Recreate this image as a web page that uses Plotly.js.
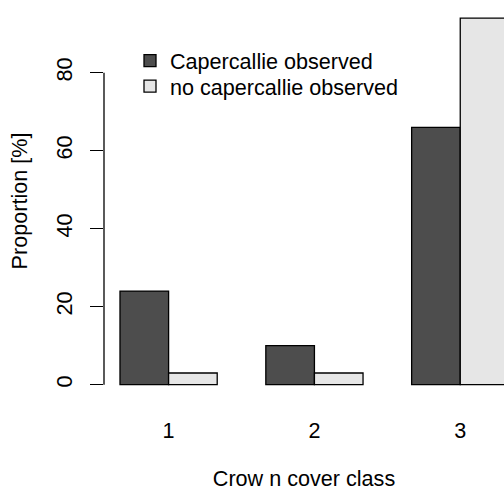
<!DOCTYPE html>
<html>
<head>
<meta charset="utf-8">
<script src="https://cdn.plot.ly/plotly-3.0.1.min.js"></script>
<style>html,body{margin:0;padding:0;background:#fff;}#chart{width:504px;height:491px;}</style>
</head>
<body>
<div id="chart"></div>
<script>
const categories = ["1", "2", "3"];
const seriesNames = ["Capercallie observed", "no capercallie observed"];
const observed = [24, 10, 66];
const notObserved = [3, 3, 94];
const yTicks = [0, 20, 40, 60, 80];
const xTitle = "Crow n cover class";
const yTitle = "Proportion [%]";

const FONT = "Liberation Sans, Arial, sans-serif";
const FS = 21.6;
const traces = [
  {type: "bar", x: categories, y: observed, name: seriesNames[0], legend: "legend",
   marker: {color: "#4D4D4D", line: {color: "#000", width: 1.3}}, hoverinfo: "none"},
  {type: "bar", x: categories, y: notObserved, name: seriesNames[1], legend: "legend2",
   marker: {color: "#E6E6E6", line: {color: "#000", width: 1.3}}, hoverinfo: "none"}
];
const legendBase = {xanchor: "left", yanchor: "top", bgcolor: "rgba(0,0,0,0)", font: {size: FS}};
const layout = {
  width: 504, height: 491,
  margin: {l: 104, r: 0, t: 3, b: 92, pad: 0},
  paper_bgcolor: "#fff", plot_bgcolor: "#fff",
  font: {family: FONT, size: FS, color: "#000"},
  barmode: "group", bargap: 1/3, bargroupgap: 0,
  xaxis: {type: "category", range: [-0.443, 2.30], showline: false, showgrid: false,
          zeroline: false, ticks: "", ticklabelstandoff: 16,
          tickfont: {size: FS},
          title: {text: xTitle, font: {size: FS}, standoff: 31}},
  yaxis: {range: [-3.67, 97.87], showline: false, showgrid: false, zeroline: false,
          tickvals: yTicks, ticktext: yTicks.map(String), ticks: "outside", ticklen: 13,
          tickwidth: 1.3, tickcolor: "#000", tickangle: -90, ticklabelstandoff: 9,
          tickfont: {size: FS},
          title: {text: yTitle, font: {size: FS}, standoff: 18}},
  showlegend: true,
  legend: Object.assign({x: 0.065, y: 0.9066}, legendBase),
  legend2: Object.assign({x: 0.065, y: 0.842}, legendBase),
  shapes: [{type: "line", xref: "paper", yref: "y", x0: 0, x1: 0, y0: yTicks[0], y1: yTicks[yTicks.length-1],
            line: {color: "#000", width: 1.3}}]
};
Plotly.newPlot("chart", traces, layout, {displayModeBar: false, staticPlot: true});
</script>
</body>
</html>
